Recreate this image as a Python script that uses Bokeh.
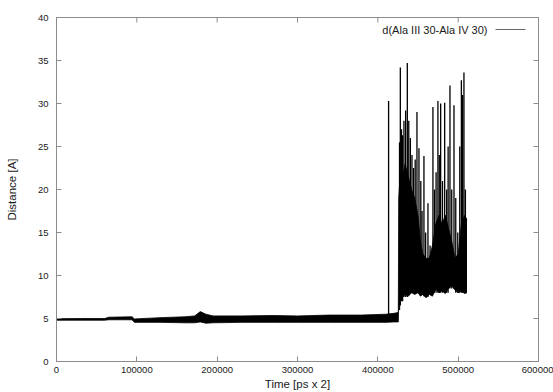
from bokeh.plotting import figure
from bokeh.models import (Range1d, LinearAxis, FixedTicker, BasicTickFormatter,
                          Label, BoxAnnotation, ColumnDataSource)
from bokeh.embed import file_html
from bokeh.resources import INLINE

# ---- data ----
x_ticks = [0, 100000, 200000, 300000, 400000, 500000, 600000]
y_ticks = [0, 5, 10, 15, 20, 25, 30, 35, 40]
series_name = "d(Ala III 30-Ala IV 30)"
x_title = "Time [ps x 2]"
y_title = "Distance [A]"

# envelope of the dense trace (time, lower edge, upper edge)
band_t = [0, 30000, 60000, 65000, 94000, 97000, 130000, 160000, 172000, 179000,
          186000, 195000, 230000, 270000, 300000, 340000, 380000, 410000, 420000,
          425500, 426000, 428000, 430000, 434000, 438000, 442000, 446000, 450000,
          453000, 456000, 460000, 464000, 468000, 472000, 476000, 480000, 484000,
          488000, 492000, 496000, 500000, 504000, 508000, 511000]
band_lo = [4.8, 4.8, 4.8, 4.85, 4.85, 4.55, 4.55, 4.5, 4.5, 4.6,
           4.45, 4.5, 4.55, 4.55, 4.55, 4.55, 4.55, 4.55, 4.6,
           4.6, 7.0, 7.5, 7.4, 7.8, 7.6, 8.0, 7.8, 8.0,
           7.6, 7.8, 7.4, 7.8, 7.6, 8.4, 8.0, 8.2, 7.9,
           8.5, 8.8, 8.3, 8.0, 8.2, 7.9, 8.0]
band_hi = [4.98, 5.0, 5.0, 5.15, 5.2, 4.95, 5.1, 5.2, 5.3, 5.8,
           5.5, 5.3, 5.3, 5.35, 5.3, 5.4, 5.4, 5.5, 5.6,
           5.7, 19.0, 22.0, 21.0, 23.0, 21.5, 20.0, 19.0, 17.0,
           14.0, 12.5, 12.0, 12.0, 13.5, 16.0, 17.0, 16.0, 17.0,
           15.5, 14.0, 12.0, 12.5, 16.0, 17.0, 16.5]

# individual excursions (time, bottom, peak)
spike_t = [413400, 427000, 428000, 429500, 430900, 432500, 434600, 436700, 438500,
           440500, 442500, 444500, 446500, 448700, 451200, 453500, 455000, 457400,
           459500, 462400, 465000, 468600, 470500, 472500, 474800, 476500, 478200,
           480500, 483200, 485700, 487500, 489800, 492000, 494800, 497000, 499500,
           502000, 504000, 505500, 507200, 509000]
spike_lo = [4.8, 6.0, 6.5, 7.0, 7.0, 7.5, 7.5, 7.5, 7.8,
            8.0, 8.0, 8.0, 8.0, 8.0, 8.0, 7.8, 7.8, 7.6,
            7.6, 7.5, 7.8, 8.0, 8.0, 8.0, 8.0, 8.0, 8.0,
            8.0, 8.0, 8.0, 8.0, 8.5, 8.5, 8.5, 8.0, 8.0,
            8.0, 8.0, 8.0, 8.0, 8.0]
spike_hi = [30.3, 25.5, 34.2, 27.0, 26.3, 28.0, 29.2, 34.7, 28.0,
            26.0, 24.0, 22.5, 23.5, 29.0, 24.8, 21.0, 17.5, 23.9,
            15.0, 18.4, 13.5, 29.6, 20.0, 22.0, 30.3, 24.0, 30.0,
            21.0, 30.1, 20.0, 25.0, 32.1, 20.0, 29.8, 19.0, 15.0,
            25.0, 32.7, 31.0, 33.6, 20.0]

X_MAX = 600000
Y_MAX = 40
FONT = "Liberation Sans"
GRAY = "#8c8c8c"
TXT = "#1a1a1a"

p = figure(width=553, height=392, output_backend="svg", toolbar_location=None,
           x_range=Range1d(0, X_MAX), y_range=Range1d(0, Y_MAX),
           x_axis_location=None, y_axis_location=None,
           min_border_left=56, min_border_right=15, min_border_top=17,
           min_border_bottom=31)
p.background_fill_color = "white"
p.border_fill_color = "white"
p.outline_line_color = GRAY
p.grid.visible = False

band = ColumnDataSource(dict(t=band_t, lo=band_lo, hi=band_hi))
spikes = ColumnDataSource(dict(t=spike_t, lo=spike_lo, hi=spike_hi))
p.varea(x="t", y1="lo", y2="hi", source=band, fill_color="black")
p.line(x="t", y="hi", source=band, line_color="black", line_width=0.8)
p.line(x="t", y="lo", source=band, line_color="black", line_width=0.8)
p.segment(x0="t", y0="lo", x1="t", y1="hi", source=spikes,
          line_color="black", line_width=1.3)

# mirrored tick marks on the top and right borders (half of each dash is clipped)
p.scatter(x=x_ticks, y=[Y_MAX] * len(x_ticks), marker="dash", angle=1.5708,
          size=10, line_color=GRAY, line_width=1)
p.scatter(x=[X_MAX] * len(y_ticks), y=y_ticks, marker="dash",
          size=10, line_color=GRAY, line_width=1)


def style(ax):
    ax.axis_line_color = GRAY
    ax.major_tick_line_color = GRAY
    ax.major_tick_in = 5
    ax.major_tick_out = 0
    ax.minor_tick_line_color = None
    ax.major_label_text_font = FONT
    ax.major_label_text_color = TXT
    ax.major_label_text_font_size = "9.5px"
    ax.axis_label_text_font = FONT
    ax.axis_label_text_font_size = "11.5px"
    ax.axis_label_text_font_style = "normal"
    ax.axis_label_text_color = TXT


fmt = BasicTickFormatter(use_scientific=False)
bottom = LinearAxis(ticker=FixedTicker(ticks=x_ticks), formatter=fmt, axis_label=x_title)
style(bottom)
bottom.major_label_standoff = 5
bottom.axis_label_standoff = 2
left = LinearAxis(ticker=FixedTicker(ticks=y_ticks), axis_label=y_title)
style(left)
left.major_label_standoff = 8
left.axis_label_standoff = 17
p.add_layout(bottom, "below")
p.add_layout(left, "left")

# gnuplot-style key: text then line sample (screen units, relative to the frame)
key_text = Label(x=431, y=332, x_units="screen", y_units="screen", text=series_name,
                 text_font=FONT, text_font_size="11px", text_color=TXT,
                 text_align="right", text_baseline="middle")
p.add_layout(key_text)
key_line = BoxAnnotation(left=439, right=469, bottom=331.8, top=332.6,
                         left_units="screen", right_units="screen",
                         bottom_units="screen", top_units="screen",
                         fill_color="#333333", fill_alpha=1.0, line_color=None)
p.add_layout(key_line)

open("out.html", "w").write(file_html(p, INLINE))
